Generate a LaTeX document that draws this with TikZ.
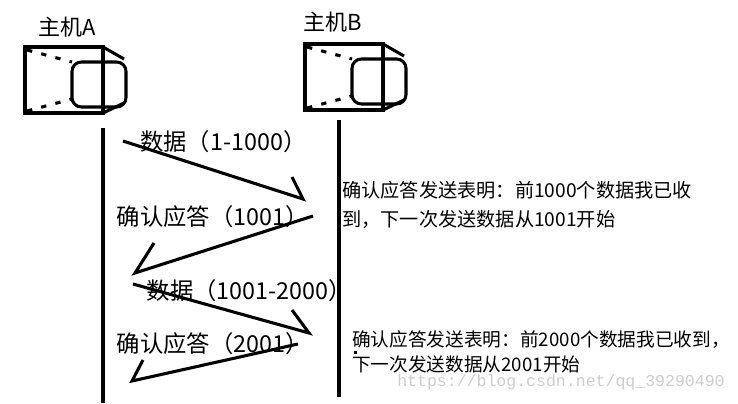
\documentclass[tikz,border=0pt]{standalone}
\usepackage{fontspec}
\setmainfont{Noto Sans CJK SC}
\newfontfamily\urlfont{Liberation Mono}
\usepackage{tikz}
\usetikzlibrary{calc,positioning}

\begin{document}
\begin{tikzpicture}[x=0.75pt,y=-0.75pt]
\tikzstyle{heavy}=[line width=2.3pt]
\tikzstyle{host}=[inner sep=0pt, font=\fontsize{16.5}{20}\selectfont]
\tikzstyle{msg}=[inner sep=0pt, anchor=west, font=\fontsize{17.5}{21}\selectfont]
\tikzstyle{note}=[inner sep=0pt, anchor=west, align=left, font=\fontsize{14.4}{21.75}\selectfont]

\useasboundingbox (0,0) rectangle (738,403);

% hosts
\node[host] (hostA) at (67,27) {主机A};
\node[host] (hostB) at (333,22) {主机B};
\foreach \x/\y in {25/47,305/44}{
  \begin{scope}[shift={(\x,\y)}, heavy]
    \draw (0,0) rectangle (78,66);
    \draw (78,0) -- (99,12) (78,66) -- (99,56);
    \draw[rounded corners=7pt] (47,15) rectangle (101,60);
    \draw[dash pattern=on 4pt off 7pt] (2,3) -- (47,15) (2,64) -- (47,52);
  \end{scope}
}

% lifelines
\coordinate (A0) at (103,128);
\coordinate (A1) at (103,403);
\coordinate (B0) at (339,120);
\coordinate (B1) at (339,397);
\foreach \i/\j in {A0/A1,B0/B1}{\draw[heavy] (\i) -- (\j);}

% messages
\coordinate (s1) at (123,141); \coordinate (e1) at (303,199); \coordinate (h1) at (292,177);
\coordinate (s2) at (313,216); \coordinate (e2) at (135,273); \coordinate (h2) at (154,243);
\coordinate (s3) at (133,284); \coordinate (e3) at (309,333); \coordinate (h3) at (292,310);
\coordinate (s4) at (298,344); \coordinate (e4) at (132,381); \coordinate (h4) at (143,360);
\foreach \i in {1,...,4}{\draw[heavy] (s\i) -- (e\i) -- (h\i);}

\node[msg] (m1) at (140,141.7) {数据（1-1000）};
\node[msg] (m2) at (116.7,216.7) {确认应答（1001）};
\node[msg] (m3) at (146.7,290.7) {数据（1001-2000）};
\node[msg] (m4) at (116.7,344) {确认应答（2001）};

% notes
\node[note] (n1) at (342,204.5) {确认应答发送表明：前1000个数据我已收\\到，下一次发送数据从1001开始};
\node[note, font=\fontsize{14}{18.75}\selectfont] (n2) at (352,351.8) {确认应答发送表明：前2000个数据我已收到，\\下一次发送数据从2001开始};
\fill (354,351) rectangle (357,354);
\node[inner sep=0pt, anchor=west, text=black!20, font=\urlfont\fontsize{12.4}{14}\selectfont] (url) at (397,382) {https://blog.csdn.net/qq\_39290490};
\end{tikzpicture}
\end{document}
